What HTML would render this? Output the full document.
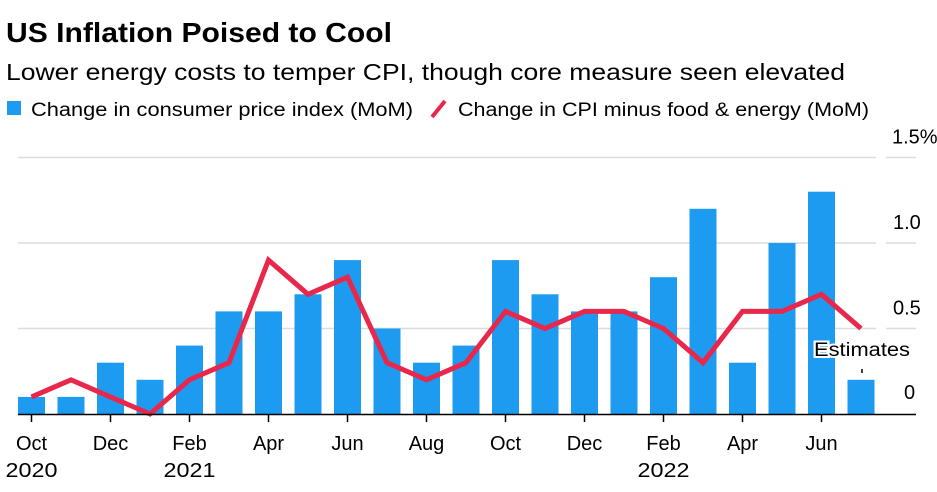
<!DOCTYPE html>
<html><head><meta charset="utf-8"><style>
body{margin:0;background:#fff;font-family:"Liberation Sans",sans-serif;}
svg text{font-family:"Liberation Sans",sans-serif;}
</style></head><body>
<svg width="937" height="487">
<text x="6" y="42" font-size="28" font-weight="bold" fill="#000" textLength="386" lengthAdjust="spacingAndGlyphs">US Inflation Poised to Cool</text>
<text x="6" y="80" font-size="23" fill="#000" textLength="839" lengthAdjust="spacingAndGlyphs">Lower energy costs to temper CPI, though core measure seen elevated</text>
<g>
<rect x="7" y="101" width="14" height="14" fill="#1d9bf0"/>
<text x="31" y="116" font-size="19" textLength="382" lengthAdjust="spacingAndGlyphs">Change in consumer price index (MoM)</text>
<line x1="432" y1="117" x2="445" y2="101" stroke="#e8274b" stroke-width="4"/>
<text x="458" y="116" font-size="19" textLength="411" lengthAdjust="spacingAndGlyphs">Change in CPI minus food &amp; energy (MoM)</text>
</g>
<g id="grid"></g><g id="bars"></g><g id="line"></g><g id="axes"></g>
<text x="814" y="356" font-size="19" textLength="96" lengthAdjust="spacingAndGlyphs" stroke="#fff" stroke-width="4" paint-order="stroke">Estimates</text>
<line x1="862" y1="369" x2="862" y2="373" stroke="#000" stroke-width="1.5"/>
</svg>
<script>
const months=["Oct","Nov","Dec","Jan","Feb","Mar","Apr","May","Jun","Jul","Aug","Sep","Oct","Nov","Dec","Jan","Feb","Mar","Apr","May","Jun","Jul"];
const years=["2020","","","","2021","","","","","","","","","","","","2022","","","","",""];
const cpi=[0.1,0.1,0.3,0.2,0.4,0.6,0.6,0.7,0.9,0.5,0.3,0.4,0.9,0.7,0.6,0.6,0.8,1.2,0.3,1.0,1.3,0.2];
const core=[0.1,0.2,0.1,0.0,0.2,0.3,0.9,0.7,0.8,0.3,0.2,0.3,0.6,0.5,0.6,0.6,0.5,0.3,0.6,0.6,0.7,0.5];
const yTicks=[0,0.5,1.0,1.5];
const yTickLabels=["0","0.5","1.0","1.5%"];
const NS="http://www.w3.org/2000/svg";
const x=i=>31.5+i*39.5;
const y=v=>414-v*171;
function mk(t,a,p){const e=document.createElementNS(NS,t);for(const k in a)e.setAttribute(k,a[k]);p.appendChild(e);return e;}
const grid=document.getElementById('grid'),bars=document.getElementById('bars'),line=document.getElementById('line'),axes=document.getElementById('axes');
yTicks.forEach((v,i)=>{
 if(v>0){
  const g=mk('line',{x1:18,x2:876,y1:y(v),y2:y(v),stroke:'#dcdcdc','stroke-width':1.5},grid);
  
  
  const g2=mk('line',{x1:886,x2:916,y1:y(v),y2:y(v),stroke:'#dcdcdc','stroke-width':1.5},grid);
  
  
 }
 const t=mk('text',{x:i==3?892:(i==0?904:893),y:y(v)-14+(i==0?-1:0),'font-size':20},axes);
 t.textContent=yTickLabels[i];
 
 
});
cpi.forEach((v,i)=>{
 const r=mk('rect',{x:x(i)-13.5,y:y(v),width:27,height:414-y(v),fill:'#1d9bf0'},bars);
 
 
});
const pl=mk('polyline',{points:core.map((v,i)=>x(i)+','+y(v)).join(' '),fill:'none',stroke:'#e8274b','stroke-width':5,'stroke-linejoin':'miter'},line);


const base=mk('line',{x1:18,x2:916,y1:414.5,y2:414.5,stroke:'#000','stroke-width':1.5},axes);


months.forEach((m,i)=>{
 if(i%2)return;
 const tk=mk('line',{x1:x(i),x2:x(i),y1:414,y2:422,stroke:'#000','stroke-width':1.5},axes);
 
 
 const t=mk('text',{x:x(i),y:450,'font-size':20,'text-anchor':'middle'},axes);
 t.textContent=m;
 
 
 if(years[i]){
  const yt=mk('text',{x:x(i),y:477,'font-size':20,'text-anchor':'middle',textLength:52,lengthAdjust:'spacingAndGlyphs'},axes);
  yt.textContent=years[i];
  
  
 }
});
</script>
</body></html>
